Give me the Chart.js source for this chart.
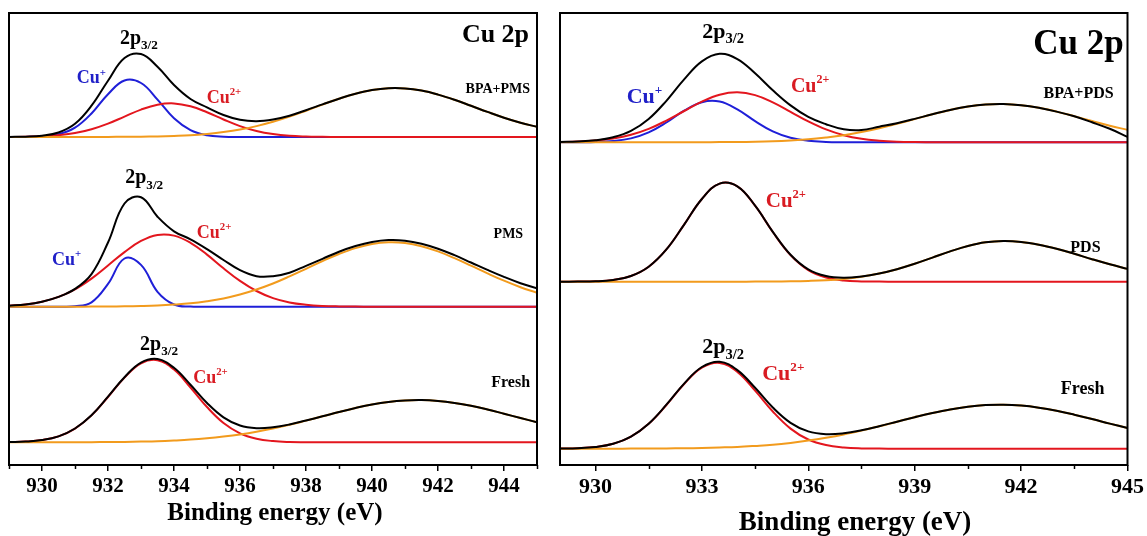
<!DOCTYPE html>
<html>
<head>
<meta charset="utf-8">
<script src="https://cdn.jsdelivr.net/npm/chart.js@4.4.1/dist/chart.umd.min.js"></script>
<style>
  html, body { margin: 0; padding: 0; background: #ffffff; overflow: hidden; }
  #page { position: relative; width: 1147px; height: 536px; }
  canvas { position: absolute; top: 0; }
  #leftChart { left: 0; }
  #rightChart { left: 547px; }
</style>
</head>
<body>
<div id="page">
  <canvas id="leftChart" width="550" height="536"></canvas>
  <canvas id="rightChart" width="600" height="536"></canvas>
</div>
<script>
// Binding energy grid (eV) shared by every curve
const energy = [929, 929.5, 930, 930.5, 931, 931.5, 932, 932.5, 933, 933.5, 934, 934.5, 935, 935.5, 936, 936.5,
  937, 937.5, 938, 938.5, 939, 939.5, 940, 940.5, 941, 941.5, 942, 942.5, 943, 943.5, 944, 944.5, 945];

// Left panel (PMS), intensities in a.u. above each trace's own baseline
const bpaPmsTotal = [0.1, 0.3, 1.3, 4.5, 13.2, 31.3, 56.3, 79.0, 83.0, 70.3, 52.0, 38.0, 29.6, 22.0, 17.2, 15.8,
  17.5, 21.3, 26.8, 32.6, 38.3, 43.3, 47.0, 48.8, 48.6, 46.4, 42.4, 37.2, 31.2, 25.1, 19.3, 14.3, 10.1];
const bpaPmsCu1 = [0, 0.1, 0.6, 2.7, 9.3, 23.5, 42.8, 56.5, 54.0, 37.4, 18.7, 6.8, 1.8, 0.3, 0, 0,
  0, 0, 0, 0, 0, 0, 0, 0, 0, 0, 0, 0, 0, 0, 0, 0, 0];
const bpaPmsCu2 = [0.1, 0.2, 0.7, 1.8, 3.9, 7.8, 13.4, 20.4, 27.4, 32.3, 33.6, 30.7, 24.7, 17.5, 10.9, 6.0,
  2.9, 1.2, 0.5, 0.2, 0, 0, 0, 0, 0, 0, 0, 0, 0, 0, 0, 0, 0];
const bpaPmsSat = [0, 0, 0, 0, 0, 0, 0.1, 0.2, 0.3, 0.6, 1.1, 1.8, 3.1, 4.9, 7.4, 10.9,
  15.2, 20.4, 26.3, 32.4, 38.3, 43.3, 47.0, 48.8, 48.6, 46.4, 42.4, 37.2, 31.2, 25.1, 19.3, 14.3, 10.1];

const pmsTotal = [1.0, 2.3, 5.0, 9.8, 17.8, 32.6, 64.2, 103.2, 109.5, 90.0, 75.4, 67.4, 57.6, 46.7, 36.5, 30.5,
  30.5, 34.0, 40.9, 47.9, 55.0, 60.7, 64.7, 66.6, 66.0, 63.0, 58.0, 51.5, 44.2, 36.8, 29.8, 23.5, 18.3];
const pmsCu1 = [0, 0, 0, 0, 0.4, 4.4, 22.8, 48.2, 41.8, 14.9, 2.2, 0.1, 0, 0, 0, 0,
  0, 0, 0, 0, 0, 0, 0, 0, 0, 0, 0, 0, 0, 0, 0, 0, 0];
const pmsCu2 = [1.0, 2.3, 5.0, 9.8, 17.4, 28.1, 41.2, 54.6, 65.8, 71.8, 71.1, 63.9, 52.1, 38.4, 25.8, 15.7,
  8.6, 4.3, 2.0, 0.8, 0.3, 0.1, 0, 0, 0, 0, 0, 0, 0, 0, 0, 0, 0];
const pmsSat = [0, 0, 0, 0, 0, 0.1, 0.2, 0.4, 0.7, 1.2, 2.1, 3.4, 5.5, 8.3, 12.2, 17.2,
  23.2, 30.3, 37.9, 45.6, 52.7, 58.6, 62.7, 64.4, 63.7, 60.5, 55.3, 48.5, 41.0, 33.3, 26.0, 19.5, 14.0];

const freshLeftTotal = [0.2, 0.7, 2.2, 5.9, 13.8, 27.0, 45.6, 65.1, 79.7, 83.2, 74.5, 57.5, 39.3, 25.0, 16.8, 14.1,
  15.0, 17.8, 21.8, 26.0, 30.3, 34.3, 37.8, 40.4, 41.9, 42.3, 41.4, 39.4, 36.5, 32.8, 28.6, 24.3, 20.0];
const freshLeftCu2 = [0.2, 0.7, 2.2, 5.9, 13.7, 26.9, 45.3, 64.7, 79.0, 82.1, 72.7, 54.8, 35.3, 19.3, 9.0, 3.6,
  1.2, 0.3, 0.1, 0, 0, 0, 0, 0, 0, 0, 0, 0, 0, 0, 0, 0, 0];
const freshLeftSat = [0, 0, 0, 0, 0.1, 0.1, 0.3, 0.4, 0.7, 1.1, 1.8, 2.7, 4.0, 5.7, 7.8, 10.5,
  13.8, 17.5, 21.7, 26.0, 30.3, 34.3, 37.8, 40.4, 41.9, 42.3, 41.4, 39.4, 36.5, 32.8, 28.6, 24.3, 20.0];

// Right panel (PDS)
const bpaPdsTotal = [0.3, 0.8, 2.0, 5.1, 11.4, 23.3, 41.5, 62.9, 80.9, 88.5, 83.2, 69.0, 52.0, 36.9, 25.4, 18.1,
  13.0, 12.2, 15.6, 19.1, 23.4, 28.1, 32.3, 35.7, 37.8, 38.3, 37.1, 34.5, 30.7, 26.0, 20.0, 13.5, 5.5];
const bpaPdsCu1 = [0, 0.1, 0.3, 1.3, 3.9, 9.9, 19.8, 31.6, 40.1, 40.7, 32.9, 21.2, 10.9, 4.5, 1.5, 0.4,
  0.1, 0, 0, 0, 0, 0, 0, 0, 0, 0, 0, 0, 0, 0, 0, 0, 0];
const bpaPdsCu2 = [0.3, 0.7, 1.7, 3.8, 7.5, 13.4, 21.7, 31.3, 40.7, 47.6, 50.0, 47.2, 40.0, 30.5, 20.9, 12.9,
  7.1, 3.5, 1.6, 0.6, 0.2, 0.1, 0, 0, 0, 0, 0, 0, 0, 0, 0, 0, 0];
const bpaPdsSat = [0, 0, 0, 0, 0, 0, 0, 0, 0.1, 0.2, 0.3, 0.6, 1.1, 1.9, 3.0, 4.8,
  7.1, 10.2, 14.0, 18.5, 23.2, 28.0, 32.3, 35.7, 37.8, 38.3, 37.1, 34.5, 30.7, 26.1, 21.3, 16.6, 12.4];

const pdsTotal = [0, 0.1, 0.4, 1.8, 5.7, 15.0, 32.3, 57.1, 82.7, 98.1, 95.4, 76.1, 49.9, 27.0, 12.4, 5.7,
  4.0, 5.3, 8.2, 12.5, 17.9, 24.1, 30.3, 35.7, 39.4, 40.7, 39.8, 37.0, 32.9, 27.9, 22.5, 17.4, 12.8];
const pdsCu2 = [0, 0.1, 0.4, 1.8, 5.7, 15.0, 32.3, 57.1, 82.7, 98.1, 95.4, 76.0, 49.7, 26.6, 11.6, 4.2,
  1.2, 0.3, 0.1, 0, 0, 0, 0, 0, 0, 0, 0, 0, 0, 0, 0, 0, 0];
const pdsSat = [0, 0, 0, 0, 0, 0, 0, 0, 0, 0, 0, 0.1, 0.2, 0.4, 0.8, 1.5,
  2.8, 5.0, 8.1, 12.5, 17.9, 24.1, 30.3, 35.7, 39.4, 40.7, 39.8, 37.0, 32.9, 27.9, 22.5, 17.4, 12.8];

const freshRightTotal = [0.1, 0.5, 1.7, 4.9, 12.1, 25.0, 44.0, 65.1, 81.7, 87.0, 78.6, 60.9, 41.2, 25.9, 17.3, 14.5,
  15.4, 18.4, 22.5, 27.0, 31.5, 35.7, 39.3, 42.0, 43.6, 44.0, 43.1, 41.0, 37.9, 34.0, 29.7, 25.1, 20.7];
const freshRightCu2 = [0.1, 0.5, 1.7, 4.9, 12.0, 24.9, 43.7, 64.7, 81.0, 85.8, 76.8, 58.1, 37.2, 20.1, 9.2, 3.6,
  1.2, 0.3, 0.1, 0, 0, 0, 0, 0, 0, 0, 0, 0, 0, 0, 0, 0, 0];
const freshRightSat = [0, 0, 0, 0, 0.1, 0.1, 0.3, 0.4, 0.7, 1.2, 1.8, 2.8, 4.0, 5.8, 8.1, 10.9,
  14.2, 18.1, 22.4, 27.0, 31.5, 35.7, 39.3, 42.0, 43.6, 44.0, 43.1, 41.0, 37.9, 34.0, 29.7, 25.1, 20.7];

// vertical stacking offsets (a.u.), top trace first
const leftOffsets = [328, 158.3, 22.7];
const rightOffsets = [322.7, 183.3, 16.3];

// axis ticks
const leftTicks = [930, 932, 934, 936, 938, 940, 942, 944];
const leftMinorTicks = [929, 931, 933, 935, 937, 939, 941, 943, 945];
const rightTicks = [930, 933, 936, 939, 942, 945];
const rightMinorTicks = [931.5, 934.5, 937.5, 940.5, 943.5];

const COLORS = {
  total: "#000000",
  sat: "#f29b1d",
  cu2: "#e3161e",
  cu1: "#1f1fd8"
};
const BLUE_TEXT = "#2020c8";
const RED_TEXT = "#d91b22";
const FONT_FAMILY = '"Liberation Serif", "Times New Roman", serif';

const leftLabels = [
  { text: "Cu 2p", x: 944.76, y: 423, size: 26, align: "right" },
  { text: "BPA+PMS", x: 944.79, y: 372.4, size: 14, align: "right" },
  { text: "PMS", x: 944.58, y: 227.4, size: 14, align: "right" },
  { text: "Fresh", x: 944.79, y: 78, size: 16, align: "right" },
  { text: "2p", sub: "3/2", x: 932.36, y: 421, size: 20 },
  { text: "2p", sub: "3/2", x: 932.52, y: 281.7, size: 20 },
  { text: "2p", sub: "3/2", x: 932.97, y: 115, size: 20 },
  { text: "Cu", sup: "+", x: 931.05, y: 381.7, size: 18, color: BLUE_TEXT },
  { text: "Cu", sup: "+", x: 930.3, y: 200, size: 18, color: BLUE_TEXT },
  { text: "Cu", sup: "2+", x: 934.99, y: 362, size: 18, color: RED_TEXT },
  { text: "Cu", sup: "2+", x: 934.69, y: 227, size: 18, color: RED_TEXT },
  { text: "Cu", sup: "2+", x: 934.58, y: 82.3, size: 18, color: RED_TEXT },
  { text: "Binding energy (eV)", x: 937.06, y: -49, size: 25, align: "center", baseline: "middle" }
];

const rightLabels = [
  { text: "Cu 2p", x: 944.89, y: 411, size: 35, align: "right" },
  { text: "BPA+PDS", x: 944.61, y: 366.7, size: 16, align: "right" },
  { text: "PDS", x: 944.24, y: 213, size: 16, align: "right" },
  { text: "Fresh", x: 944.35, y: 71, size: 18, align: "right" },
  { text: "2p", sub: "3/2", x: 933.01, y: 427.3, size: 22 },
  { text: "2p", sub: "3/2", x: 933.01, y: 112, size: 22 },
  { text: "Cu", sup: "+", x: 930.88, y: 362, size: 22, color: BLUE_TEXT },
  { text: "Cu", sup: "2+", x: 935.51, y: 373.3, size: 20, color: RED_TEXT },
  { text: "Cu", sup: "2+", x: 934.8, y: 258.3, size: 21, color: RED_TEXT },
  { text: "Cu", sup: "2+", x: 934.7, y: 85, size: 22, color: RED_TEXT },
  { text: "Binding energy (eV)", x: 937.32, y: -58, size: 27, align: "center", baseline: "middle" }
];

function font(size) {
  return `bold ${size}px ${FONT_FAMILY}`;
}

function drawLabel(ctx, px, py, label) {
  const parts = [{ text: label.text, size: label.size, dy: 0 }];
  if (label.sup) parts.push({ text: label.sup, size: label.size * 0.6, dy: -label.size * 0.42 });
  if (label.sub) parts.push({ text: label.sub, size: label.size * 0.66, dy: label.size * 0.26 });

  let total = 0;
  parts.forEach((part) => {
    ctx.font = font(part.size);
    part.width = ctx.measureText(part.text).width;
    total += part.width;
  });

  let cur = px;
  if (label.align === "right") cur = px - total;
  if (label.align === "center") cur = px - total / 2;

  ctx.fillStyle = label.color || "#000000";
  ctx.textAlign = "left";
  ctx.textBaseline = label.baseline || "alphabetic";
  parts.forEach((part) => {
    ctx.font = font(part.size);
    ctx.fillText(part.text, cur, py + part.dy);
    cur += part.width;
  });
}

const panelDecor = {
  id: "panelDecor",
  afterDatasetsDraw(chart, args, opts) {
    const { ctx, chartArea } = chart;
    const xScale = chart.scales.x;
    const yScale = chart.scales.y;
    ctx.save();

    ctx.strokeStyle = "#000000";
    ctx.lineWidth = 2;
    ctx.strokeRect(chartArea.left, chartArea.top, chartArea.right - chartArea.left, chartArea.bottom - chartArea.top);

    ctx.lineWidth = 1.5;
    opts.minorTicks.forEach((value) => {
      const px = Math.round(xScale.getPixelForValue(value)) + 0.5;
      ctx.beginPath();
      ctx.moveTo(px, chartArea.bottom);
      ctx.lineTo(px, chartArea.bottom + 4);
      ctx.stroke();
    });

    opts.labels.forEach((label) => {
      drawLabel(ctx, xScale.getPixelForValue(label.x), yScale.getPixelForValue(label.y), label);
    });
    ctx.restore();
  }
};

function buildDatasets(spectra, offsets) {
  const datasets = [];
  spectra.forEach((spectrum, i) => {
    // first pushed is drawn on top
    ["total", "sat", "cu2", "cu1"].forEach((key) => {
      if (!spectrum[key]) return;
      datasets.push({
        data: energy.map((e, j) => ({ x: e, y: spectrum[key][j] + offsets[i] })),
        borderColor: COLORS[key],
        borderWidth: 2,
        pointRadius: 0,
        tension: 0.4,
        fill: false
      });
    });
  });
  return datasets;
}

function makePanel(canvasId, spectra, offsets, ticks, minorTicks, labels, padding, tickSize) {
  return new Chart(document.getElementById(canvasId), {
    type: "line",
    data: { datasets: buildDatasets(spectra, offsets) },
    options: {
      responsive: false,
      animation: false,
      devicePixelRatio: 1,
      layout: { padding },
      plugins: {
        legend: { display: false },
        tooltip: { enabled: false },
        panelDecor: { labels, minorTicks }
      },
      scales: {
        x: {
          type: "linear",
          min: 929,
          max: 945,
          afterBuildTicks: (axis) => {
            axis.ticks = ticks.map((value) => ({ value }));
          },
          afterFit: (axis) => {
            axis.height = 71;
          },
          border: { display: false },
          grid: {
            drawOnChartArea: false,
            tickLength: 6,
            color: "#000000",
            lineWidth: 1.5
          },
          ticks: {
            autoSkip: false,
            maxRotation: 0,
            padding: 3,
            color: "#000000",
            font: { family: FONT_FAMILY, size: tickSize, weight: "bold" }
          }
        },
        y: {
          display: false,
          min: 0,
          max: 452
        }
      }
    },
    plugins: [panelDecor]
  });
}

makePanel(
  "leftChart",
  [
    { total: bpaPmsTotal, sat: bpaPmsSat, cu2: bpaPmsCu2, cu1: bpaPmsCu1 },
    { total: pmsTotal, sat: pmsSat, cu2: pmsCu2, cu1: pmsCu1 },
    { total: freshLeftTotal, sat: freshLeftSat, cu2: freshLeftCu2 }
  ],
  leftOffsets, leftTicks, leftMinorTicks, leftLabels,
  { left: 9, right: 13, top: 13, bottom: 0 }, 21
);

makePanel(
  "rightChart",
  [
    { total: bpaPdsTotal, sat: bpaPdsSat, cu2: bpaPdsCu2, cu1: bpaPdsCu1 },
    { total: pdsTotal, sat: pdsSat, cu2: pdsCu2 },
    { total: freshRightTotal, sat: freshRightSat, cu2: freshRightCu2 }
  ],
  rightOffsets, rightTicks, rightMinorTicks, rightLabels,
  { left: 13, right: 17, top: 13, bottom: 0 }, 22
);
</script>
</body>
</html>
